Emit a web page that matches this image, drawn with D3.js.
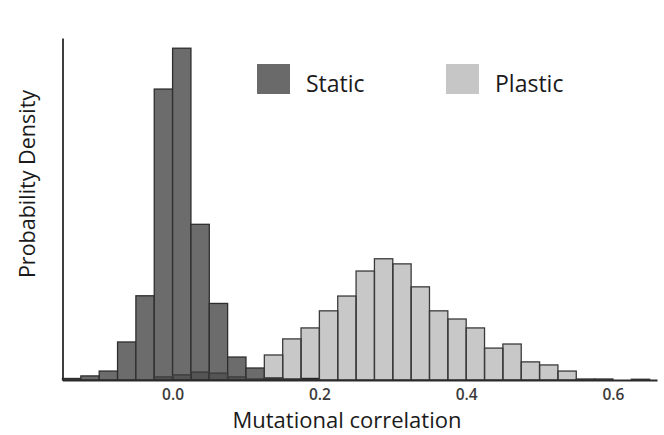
<!DOCTYPE html>
<html>
<head>
<meta charset="utf-8">
<script src="https://cdn.jsdelivr.net/npm/d3@7"></script>
<style>
  html, body { margin: 0; padding: 0; background: #fff; }
  svg { display: block; }
</style>
</head>
<body>
<svg id="chart" width="664" height="435"></svg>
<script>
// ---- data (density per bin of width 0.025) ----
const binWidth = 0.025;
const binStarts = [-0.15,-0.125,-0.1,-0.075,-0.05,-0.025,0,0.025,0.05,0.075,0.1,0.125,0.15,0.175,0.2,0.225,0.25,0.275,0.3,0.325,0.35,0.375,0.4,0.425,0.45,0.475,0.5,0.525,0.55,0.575,0.6,0.625];
const staticDensity = [0.06,0.16,0.35,1.49,3.3,11.4,13.0,6.1,3.0,0.9,0.47,0.08,0.04,0.06,0,0,0,0,0,0,0,0,0,0,0,0,0,0,0,0,0,0];
const plasticDensity = [0,0,0,0,0,0.12,0.2,0.31,0.27,0.12,0.04,0.98,1.61,2.04,2.71,3.29,4.27,4.75,4.55,3.65,2.71,2.39,2.04,1.25,1.41,0.71,0.59,0.35,0.04,0.04,0,0.03];
const xTicks = [0, 0.2, 0.4, 0.6];
const seriesNames = ["Static", "Plastic"];
const xTitle = "Mutational correlation";
const yTitle = "Probability Density";

const svg = d3.select("#chart");
const x = d3.scaleLinear().domain([-0.15, 0.66]).range([62.5, 657]);
const y = d3.scaleLinear().domain([0, 13.4]).range([380, 38]);

const staticData = binStarts.map((b, i) => ({ x0: b, x1: b + binWidth, v: staticDensity[i] })).filter(d => d.v > 0);
const plasticData = binStarts.map((b, i) => ({ x0: b, x1: b + binWidth, v: plasticDensity[i] })).filter(d => d.v > 0);

// static bars (dark)
svg.append("g").selectAll("rect").data(staticData).join("rect")
  .attr("x", d => x(d.x0)).attr("width", d => x(d.x1) - x(d.x0))
  .attr("y", d => y(d.v)).attr("height", d => y(0) - y(d.v))
  .attr("fill", "#6c6c6c").attr("stroke", "#2e2e2e").attr("stroke-width", 1.3);

// plastic bars (light, translucent)
svg.append("g").selectAll("rect").data(plasticData).join("rect")
  .attr("x", d => x(d.x0)).attr("width", d => x(d.x1) - x(d.x0))
  .attr("y", d => y(d.v)).attr("height", d => y(0) - y(d.v))
  .attr("fill", "#000").attr("fill-opacity", 0.215)
  .attr("stroke", "#3a3a3a").attr("stroke-width", 1.3);

// axes
const xAxis = svg.append("g").attr("transform", `translate(0,${y(0)})`)
  .call(d3.axisBottom(x).tickValues(xTicks).tickSize(0).tickPadding(9).tickFormat(d3.format(".1f")));
xAxis.select(".domain").attr("stroke", "#2a2a2a").attr("stroke-width", 1.8);
xAxis.selectAll("text").attr("font-family", "Open Sans").attr("font-size", 15.5)
  .attr("font-weight", 600).attr("fill", "#3a3a3a");

const yAxis = svg.append("g").attr("transform", `translate(${x(-0.15)},0)`)
  .call(d3.axisLeft(y).tickValues([]).tickSizeOuter(0));
yAxis.select(".domain").attr("stroke", "#2a2a2a").attr("stroke-width", 1.8);

// titles
svg.append("text").attr("x", 347).attr("y", 428).attr("text-anchor", "middle")
  .attr("font-family", "Open Sans").attr("font-size", 22).attr("fill", "#1a1a1a").text(xTitle);
svg.append("text").attr("transform", "translate(35,184) rotate(-90)").attr("text-anchor", "middle")
  .attr("font-family", "Open Sans").attr("font-size", 21.5).attr("fill", "#1a1a1a").text(yTitle);

// legend
const legendColors = ["#6a6a6a", "#c6c6c6"];
const legendX = [257, 446];
const lg = svg.append("g");
seriesNames.forEach((name, i) => {
  lg.append("rect").attr("x", legendX[i]).attr("y", 64).attr("width", 33).attr("height", 30).attr("fill", legendColors[i]);
  lg.append("text").attr("x", legendX[i] + 49).attr("y", 92)
    .attr("font-family", "Open Sans").attr("font-size", 23).attr("fill", "#1a1a1a").text(name);
});
</script>
</body>
</html>
